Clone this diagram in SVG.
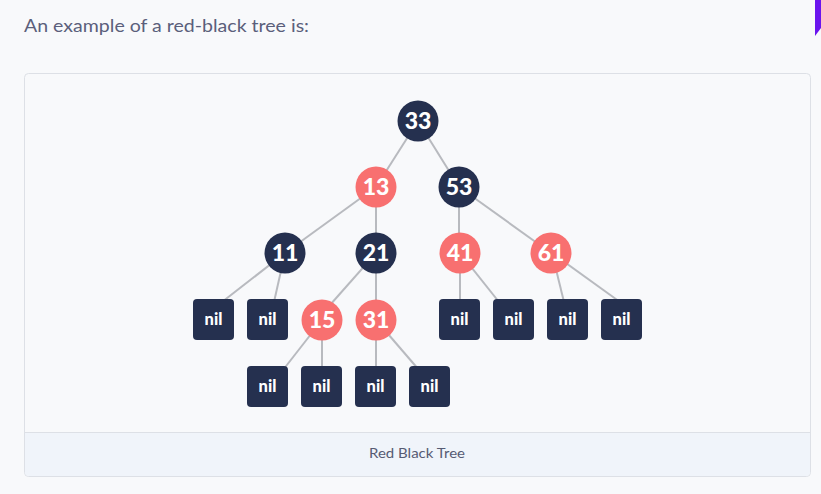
<svg xmlns="http://www.w3.org/2000/svg" width="821" height="494" viewBox="0 0 821 494">
<style>
.edge{stroke:#b8babf;stroke-width:2;fill:none}
.blk{fill:#25304f}
.red{fill:#f87070}
.num{font-family:Lato,"Open Sans",sans-serif;font-weight:900;font-size:23px;fill:#ffffff;text-anchor:middle}
.nil{font-family:Lato,"Open Sans",sans-serif;font-weight:900;font-size:16.5px;fill:#ffffff;text-anchor:middle}
</style>
<rect x="0" y="0" width="821" height="494" fill="#f8f9fb"/>
<path d="M815 0 H821 V28 L815 36 Z" fill="#6a14ee"/>
<text x="24" y="32" font-family="Lato,'Open Sans',sans-serif" font-size="18" fill="#5b5f7b" textLength="285" lengthAdjust="spacingAndGlyphs">An example of a red-black tree is:</text>
<rect x="24.5" y="73.5" width="786" height="403" rx="4" fill="#f8f9fb" stroke="#dde0e6"/>
<path d="M25 432.5 H810 V472 a4 4 0 0 1 -4 4 H29 a4 4 0 0 1 -4 -4 Z" fill="#f0f4fa"/>
<line x1="25" y1="432.5" x2="810" y2="432.5" stroke="#dde0e6"/>
<text x="417" y="458" font-family="Lato,'Open Sans',sans-serif" font-size="14" fill="#565b73" text-anchor="middle" textLength="96" lengthAdjust="spacingAndGlyphs">Red Black Tree</text>
<g id="edges">
<line class="edge" x1="418" y1="121" x2="376" y2="187"/>
<line class="edge" x1="418" y1="121" x2="459" y2="187"/>
<line class="edge" x1="376" y1="187" x2="285" y2="253"/>
<line class="edge" x1="376" y1="187" x2="376" y2="253"/>
<line class="edge" x1="459" y1="187" x2="459" y2="253"/>
<line class="edge" x1="459" y1="187" x2="551" y2="253"/>
<line class="edge" x1="285" y1="253" x2="222" y2="302"/>
<line class="edge" x1="285" y1="253" x2="274" y2="302"/>
<line class="edge" x1="376" y1="253" x2="330" y2="305"/>
<line class="edge" x1="376" y1="253" x2="376" y2="320"/>
<line class="edge" x1="460" y1="253" x2="460" y2="302"/>
<line class="edge" x1="460" y1="253" x2="499" y2="302"/>
<line class="edge" x1="552" y1="253" x2="564" y2="302"/>
<line class="edge" x1="552" y1="253" x2="620" y2="302"/>
<line class="edge" x1="322" y1="320" x2="283" y2="370"/>
<line class="edge" x1="322" y1="320" x2="322" y2="370"/>
<line class="edge" x1="376" y1="320" x2="376" y2="370"/>
<line class="edge" x1="376" y1="320" x2="419" y2="370"/>
</g>
<g id="n33"><circle class="blk" cx="418" cy="121" r="20.5"/><text class="num" x="418" y="129">33</text></g>
<g id="n13"><circle class="red" cx="376" cy="187" r="20.5"/><text class="num" x="376" y="195">13</text></g>
<g id="n53"><circle class="blk" cx="459" cy="187" r="20.5"/><text class="num" x="459" y="195">53</text></g>
<g id="n11"><circle class="blk" cx="285" cy="253" r="20.5"/><text class="num" x="285" y="261">11</text></g>
<g id="n21"><circle class="blk" cx="376" cy="253" r="20.5"/><text class="num" x="376" y="261">21</text></g>
<g id="n41"><circle class="red" cx="460" cy="253" r="20.5"/><text class="num" x="460" y="261">41</text></g>
<g id="n61"><circle class="red" cx="551" cy="253" r="20.5"/><text class="num" x="551" y="261">61</text></g>
<g id="n15"><circle class="red" cx="322" cy="320" r="20.5"/><text class="num" x="322" y="328">15</text></g>
<g id="n31"><circle class="red" cx="376" cy="320" r="20.5"/><text class="num" x="376" y="328">31</text></g>
<g id="nil1"><rect class="blk" x="193" y="299" width="41" height="41" rx="4"/><text class="nil" x="213.5" y="325">nil</text></g>
<g id="nil2"><rect class="blk" x="247" y="299" width="41" height="41" rx="4"/><text class="nil" x="267.5" y="325">nil</text></g>
<g id="nil3"><rect class="blk" x="439" y="299" width="41" height="41" rx="4"/><text class="nil" x="459.5" y="325">nil</text></g>
<g id="nil4"><rect class="blk" x="493" y="299" width="41" height="41" rx="4"/><text class="nil" x="513.5" y="325">nil</text></g>
<g id="nil5"><rect class="blk" x="547" y="299" width="41" height="41" rx="4"/><text class="nil" x="567.5" y="325">nil</text></g>
<g id="nil6"><rect class="blk" x="601" y="299" width="41" height="41" rx="4"/><text class="nil" x="621.5" y="325">nil</text></g>
<g id="nil7"><rect class="blk" x="247" y="366" width="41" height="41" rx="4"/><text class="nil" x="267.5" y="392">nil</text></g>
<g id="nil8"><rect class="blk" x="301" y="366" width="41" height="41" rx="4"/><text class="nil" x="321.5" y="392">nil</text></g>
<g id="nil9"><rect class="blk" x="355" y="366" width="41" height="41" rx="4"/><text class="nil" x="375.5" y="392">nil</text></g>
<g id="nil10"><rect class="blk" x="409" y="366" width="41" height="41" rx="4"/><text class="nil" x="429.5" y="392">nil</text></g>
</svg>
